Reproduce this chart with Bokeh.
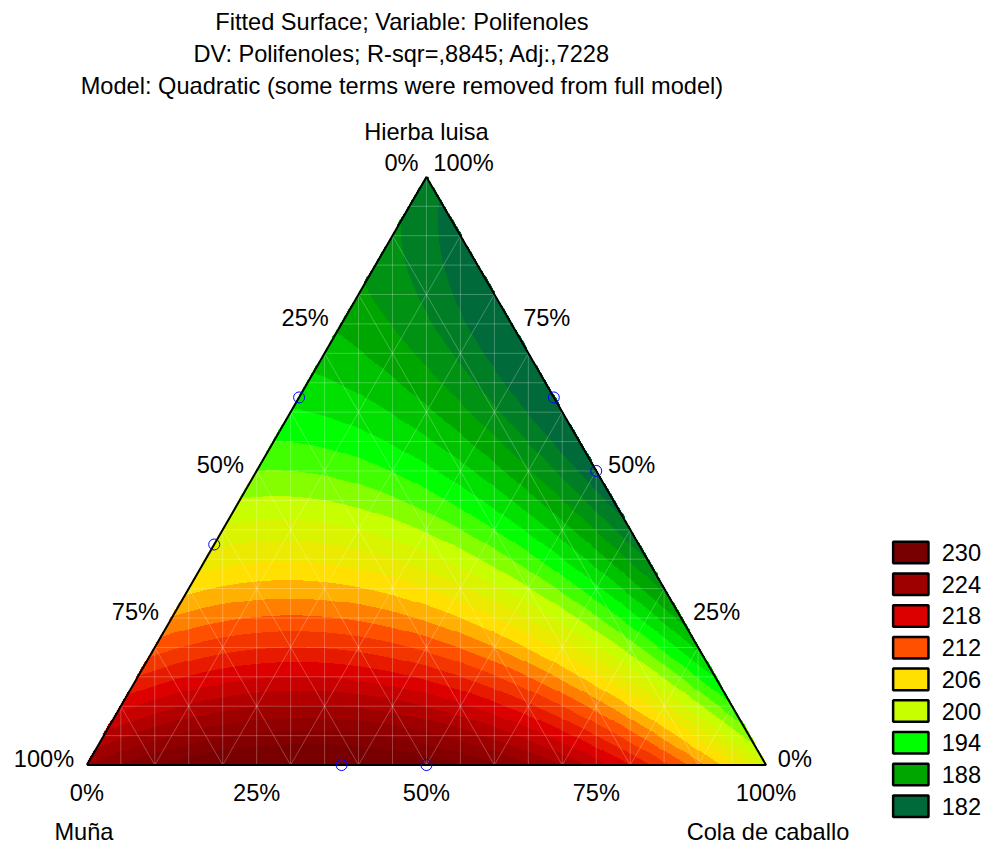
import numpy as np
from bokeh.plotting import figure
from bokeh.models import Range1d
from bokeh.embed import file_html
from bokeh.resources import INLINE
from bokeh.core.properties import value

# ---------------- data ----------------
title_lines = [
    "Fitted Surface; Variable: Polifenoles",
    "DV: Polifenoles; R-sqr=,8845; Adj:,7228",
    "Model: Quadratic (some terms were removed from full model)",
]
comp_names = ["Muña", "Cola de caballo", "Hierba luisa"]

# Scheffé quadratic model coefficients
coef_m = 226.0   # Muña
coef_c = 202.0   # Cola de caballo
coef_h = 185.0   # Hierba luisa
coef_mc = 70.0
coef_mh = -30.0
coef_ch = -45.0

legend_levels = [230, 224, 218, 212, 206, 200, 194, 188, 182]
legend_colors = ["#780000", "#9e0000", "#dc0000", "#ff5000", "#ffe000",
                 "#c8ff00", "#00ff00", "#00a600", "#006a3a"]
band_step = 2

# design points (fractions of Muña, Cola de caballo, Hierba luisa)
design_m = [0.625, 0.5, 0.375, 0.625, 0.0, 0.0]
design_c = [0.375, 0.5, 0.0, 0.0, 0.375, 0.5]
design_h = [0.0, 0.0, 0.625, 0.375, 0.625, 0.5]

tick_fracs = [0.0, 0.25, 0.5, 0.75, 1.0]

# ---------------- geometry ----------------
S3 = np.sqrt(3) / 2
W, H = 992, 847
K = H / 863.0            # scale from reference layout pixels to figure pixels
SC = 692.0               # reference pixels per unit side
OX, OY = 88.0, 779.0     # reference-pixel position of the Muña vertex

def rx(xr):
    return (xr - OX) / SC

def ry(yr):
    return (OY - yr) / SC

def cart(c, h):
    c = np.asarray(c, float); h = np.asarray(h, float)
    return c + h / 2, h * S3

def model(m, c, h):
    return (coef_m * m + coef_c * c + coef_h * h
            + coef_mc * m * c + coef_mh * m * h + coef_ch * c * h)

def hex2rgb(hx):
    return np.array([int(hx[i:i + 2], 16) for i in (1, 3, 5)], float)

lv_asc = np.array(legend_levels[::-1], float)
col_asc = np.array([hex2rgb(c) for c in legend_colors[::-1]])

def colorize(v):
    q = lv_asc[0] + band_step * np.floor((v - lv_asc[0]) / band_step)
    q = np.clip(q, lv_asc[0], lv_asc[-1])
    r = np.interp(q, lv_asc, col_asc[:, 0])
    g = np.interp(q, lv_asc, col_asc[:, 1])
    b = np.interp(q, lv_asc, col_asc[:, 2])
    return r, g, b

p = figure(width=W, height=H,
           x_range=Range1d(rx(0), rx(W / K)),
           y_range=Range1d(ry(H / K), ry(0)),
           output_backend="svg", toolbar_location=None, min_border=0)
p.axis.visible = False
p.grid.visible = False
p.outline_line_color = None
p.background_fill_color = "white"
p.border_fill_color = "white"

# ---------------- surface image ----------------
nx, ny = 700, 608
xs = (np.arange(nx) + 0.5) / nx
ys = (np.arange(ny) + 0.5) / ny * S3
X, Y = np.meshgrid(xs, ys)
Hh = Y / S3
Cc = X - Hh / 2
Mm = 1 - Cc - Hh
inside = (Cc >= -0.002) & (Mm >= -0.002)
V = model(Mm, Cc, Hh)
r, g, b = colorize(V)
img = np.zeros((ny, nx), dtype=np.uint32)
view = img.view(dtype=np.uint8).reshape((ny, nx, 4))
view[:, :, 0] = r.astype(np.uint8)
view[:, :, 1] = g.astype(np.uint8)
view[:, :, 2] = b.astype(np.uint8)
view[:, :, 3] = np.where(inside, 255, 0).astype(np.uint8)
p.image_rgba(image=[img], x=0, y=0, dw=1, dh=S3)

# ---------------- mesh lines ----------------
mx, my = [], []
for k in range(1, 20):
    x = k / 20
    top = min(x, 1 - x) * 2 * S3
    mx.append([x, x]); my.append([0, top])
for k in range(1, 20):
    h = k / 20
    x0, y0 = cart(0, h); x1, y1 = cart(1 - h, h)
    mx.append([float(x0), float(x1)]); my.append([float(y0), float(y1)])
for k in range(1, 10):
    c = k / 10
    x0, y0 = cart(c, 0); x1, y1 = cart(c, 1 - c)
    mx.append([float(x0), float(x1)]); my.append([float(y0), float(y1)])
    m = k / 10
    x0, y0 = cart(1 - m, 0); x1, y1 = cart(0, 1 - m)
    mx.append([float(x0), float(x1)]); my.append([float(y0), float(y1)])
p.multi_line(xs=mx, ys=my, line_color="white", line_alpha=0.25, line_width=1)

# ---------------- triangle outline ----------------
tx, ty = cart([0, 1, 0, 0], [0, 0, 1, 0])
p.line(x=list(tx), y=list(ty), line_color="black", line_width=2)

# ---------------- design points ----------------
dx, dy = cart(design_c, design_h)
p.scatter(x=list(dx), y=list(dy), size=11, marker="circle",
          fill_color=None, line_color="#0000ff", line_width=1)

FONT = value("Liberation Sans")
FS = f"{24 * K:.1f}px"

def txt(x, y, t, align="center"):
    p.text(x=x, y=y, text=t, text_font=FONT, text_font_size=FS,
           text_align=align, text_baseline="middle", text_color="black")

# titles
for i, line in enumerate(title_lines):
    txt([rx(409)], [ry(22 + 32.5 * i)], [line])

# tick labels
# bottom: Cola de caballo %
bx = [float(cart(t, 0)[0]) for t in tick_fracs]
txt(bx, [ry(807)] * len(bx), [f"{int(t*100)}%" for t in tick_fracs])
# left edge: Muña %
lxs, lys, lts = [], [], []
for t in tick_fracs[:-1]:
    x, y = cart(0, t)
    lxs.append(float(x) - 13 / SC); lys.append(float(y) + 6.5 / SC)
    lts.append(f"{int(round((1 - t) * 100))}%")
txt(lxs, lys, lts, align="right")
# right edge: Hierba luisa %
rxs, rys, rts = [], [], []
for t in tick_fracs[:-1]:
    x, y = cart(1 - t, t)
    rxs.append(float(x) + 12 / SC); rys.append(float(y) + 6.5 / SC)
    rts.append(f"{int(round(t * 100))}%")
txt(rxs, rys, rts, align="left")
# top vertex
txt([rx(426)], [ry(166)], ["0%"], align="right")
txt([rx(441)], [ry(166)], ["100%"], align="left")

# component names
txt([rx(85)], [ry(847)], [comp_names[0]])
txt([rx(782)], [ry(847)], [comp_names[1]])
txt([rx(434)], [ry(134)], [comp_names[2]])

# ---------------- legend ----------------
lg_y = [ry(562.5 + 32.3 * i) for i in range(len(legend_levels))]
p.rect(x=[rx(927.5)] * len(legend_levels), y=lg_y,
       width=36 / SC, height=22 / SC, fill_color=legend_colors,
       line_color="black", line_width=2.5)
txt([rx(959)] * len(legend_levels), lg_y, [str(v) for v in legend_levels], align="left")

open("out.html", "w").write(file_html(p, INLINE))
